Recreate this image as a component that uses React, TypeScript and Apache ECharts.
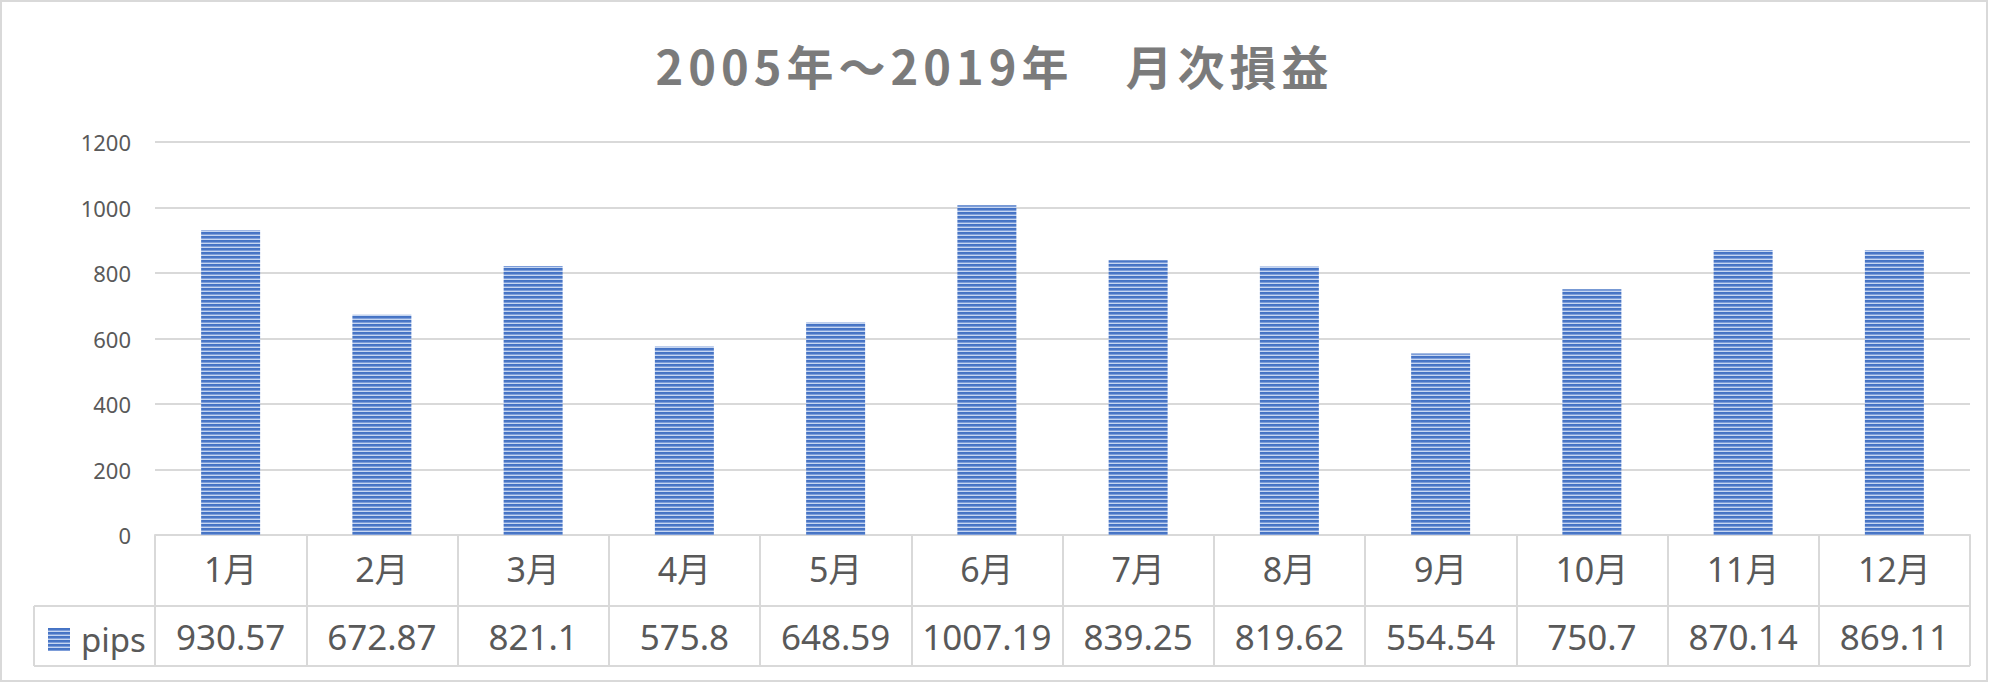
import React, { useEffect, useRef } from "react";
import * as echarts from "echarts";

const titleText = "2005年～2019年　月次損益";
const months = ["1月", "2月", "3月", "4月", "5月", "6月", "7月", "8月", "9月", "10月", "11月", "12月"];
const pips = [930.57, 672.87, 821.1, 575.8, 648.59, 1007.19, 839.25, 819.62, 554.54, 750.7, 870.14, 869.11];
const seriesName = "pips";
const yTicks = { min: 0, max: 1200, interval: 200 };

const W = 1989;
const H = 683;
const GRID_L = 155;
const GRID_R = 1970;
const GRID_T = 142;
const AXIS_Y = 535;
const ROW1_B = 606;
const ROW2_B = 666;
const LEG_L = 34;
const LINE = "#d9d9d9";
const TXT = "#595959";

function makePattern(): string {
  const c = document.createElement("canvas");
  c.width = 4;
  c.height = 4;
  const ctx = c.getContext("2d")!;
  const rows = ["#4472c4", "#4a77c6", "#7d9dd9", "#c6d6f1"];
  rows.forEach((col, i) => {
    ctx.fillStyle = col;
    ctx.fillRect(0, i, 4, 1);
  });
  return c.toDataURL();
}

export default function App() {
  const ref = useRef<HTMLDivElement>(null);
  useEffect(() => {
    document.body.style.margin = "0";
    const style = document.createElement("style");
    style.textContent = `.chart-root text[style*="47px"]{letter-spacing:5px;}`;
    document.head.appendChild(style);
    const chart = echarts.init(ref.current!, undefined, { renderer: "svg" });
    const img = new Image();
    img.src = makePattern();
    const pattern = { image: img, repeat: "repeat" } as any;
    const render = () => {
      chart.setOption({
        animation: false,
        backgroundColor: "#ffffff",
        title: {
          text: titleText,
          left: "center",
          top: 36,
          textStyle: {
            fontFamily: "Noto Sans CJK JP",
            fontSize: 47,
            fontWeight: "bold",
            color: "#7b7b7b",
          },
        },
        legend: {
          data: [seriesName],
          left: 43,
          top: 618,
          icon: "rect",
          itemWidth: 22,
          itemHeight: 23,
          textStyle: {
            fontFamily: "Noto Sans",
            fontSize: 33,
            color: TXT,
            padding: [0, 0, 0, 6],
          },
        },
        grid: {
          left: GRID_L,
          right: W - GRID_R,
          top: GRID_T,
          bottom: H - AXIS_Y,
          containLabel: false,
        },
        xAxis: [
          {
            type: "category",
            data: months,
            position: "bottom",
            axisLine: { lineStyle: { color: LINE, width: 2 } },
            axisTick: { show: true, length: ROW2_B - AXIS_Y, lineStyle: { color: LINE, width: 2 } },
            axisLabel: {
              fontFamily: "Noto Sans, Noto Sans CJK JP",
              fontSize: 34,
              color: TXT,
              margin: 13,
              lineHeight: 42,
              interval: 0,
            },
          },
          {
            type: "category",
            data: pips.map((v) => String(v)),
            position: "bottom",
            offset: ROW1_B - AXIS_Y,
            axisLine: { show: false },
            axisTick: { show: false },
            axisLabel: {
              fontFamily: "Noto Sans",
              fontSize: 35,
              color: TXT,
              margin: 9,
              lineHeight: 42,
              interval: 0,
              hideOverlap: false,
            },
          },
        ],
        yAxis: {
          type: "value",
          min: yTicks.min,
          max: yTicks.max,
          interval: yTicks.interval,
          axisLine: { show: false },
          axisTick: { show: false },
          splitLine: { lineStyle: { color: LINE, width: 2 } },
          axisLabel: {
            fontFamily: "Noto Sans",
            fontSize: 22,
            color: TXT,
            margin: 24,
            formatter: (v: number) => String(v),
          },
        },
        series: [
          {
            name: seriesName,
            type: "bar",
            data: pips,
            barWidth: "39%",
            itemStyle: { color: pattern },
          },
        ],
        graphic: [
          {
            type: "rect",
            shape: { x: 1, y: 1, width: W - 3, height: H - 3 },
            style: { fill: "none", stroke: LINE, lineWidth: 2 },
            silent: true,
          },
          {
            type: "line",
            shape: { x1: LEG_L, y1: ROW1_B, x2: GRID_R, y2: ROW1_B },
            style: { stroke: LINE, lineWidth: 2 },
            silent: true,
          },
          {
            type: "line",
            shape: { x1: LEG_L, y1: ROW2_B, x2: GRID_R, y2: ROW2_B },
            style: { stroke: LINE, lineWidth: 2 },
            silent: true,
          },
          {
            type: "line",
            shape: { x1: LEG_L, y1: ROW1_B, x2: LEG_L, y2: ROW2_B },
            style: { stroke: LINE, lineWidth: 2 },
            silent: true,
          },
        ],
      });
    };
    if (img.complete) render();
    else {
      img.onload = render;
      render();
    }
    return () => {
      chart.dispose();
      style.remove();
    };
  }, []);
  return <div ref={ref} className="chart-root" style={{ width: W, height: H }} />;
}
